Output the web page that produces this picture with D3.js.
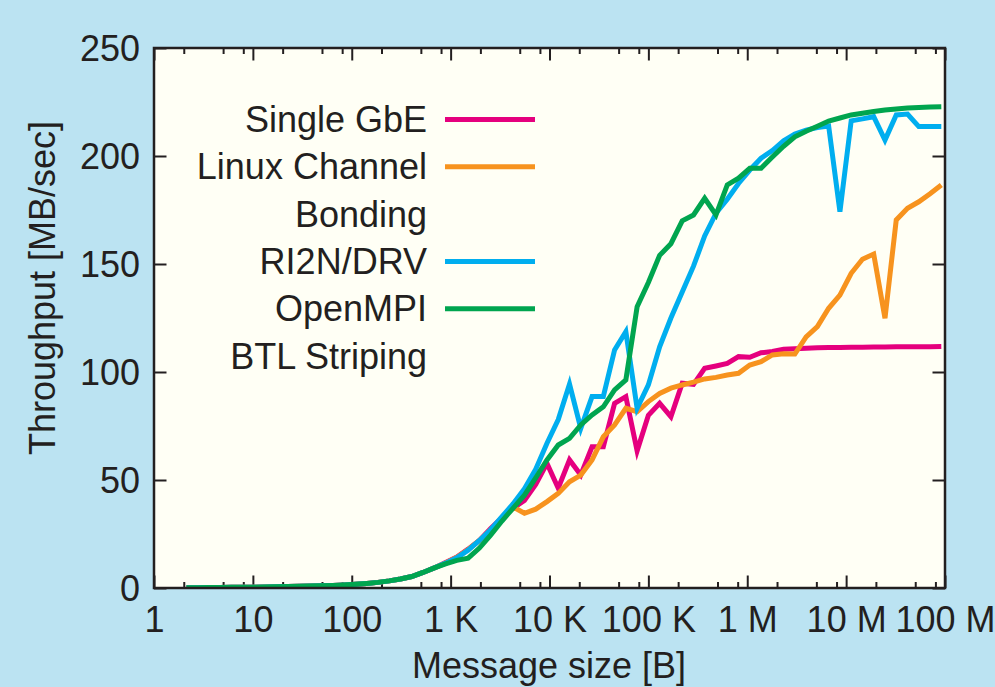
<!DOCTYPE html>
<html><head><meta charset="utf-8">
<script src="https://cdn.jsdelivr.net/npm/d3@7"></script>
<style>html,body{margin:0;padding:0;background:#bbe3f2;}svg{display:block}</style>
</head><body><svg id="c" width="995" height="687"></svg>
<script>
// Message sizes [B]
const sizes = [2.13,2.77,3.60,4.68,6.08,7.91,10.3,13.4,17.4,22.6,29.4,38.2,49.6,64.5,83.9,109,142,184,240,311,405,526,684,889,1156,1503,1954,2540,3303,4293,5581,7255,9431,12260,15940,20720,26940,35020,45530,59190,76940,100000,130000,169000,220000,286000,371000,483000,628000,816000,1061000,1379000,1793000,2331000,3030000,3939000,5121000,6657000,8654000,11250000,14630000,19010000,24720000,32130000,41770000,54310000,70600000,91780000];

const singleGbE = [0.1,0.1,0.2,0.2,0.3,0.3,0.4,0.5,0.6,0.7,0.8,0.9,1.0,1.2,1.4,1.7,2.1,2.6,3.3,4.2,5.3,7.2,9.3,11.8,14.3,18,22,27.5,32.5,37,40.5,48,57.7,46.2,59.3,52.3,65.4,65.4,85.5,88.6,63.5,80,85.5,79.3,94.8,94.3,101.7,102.8,104,107.1,106.8,108.9,109.5,110.5,110.8,111,111.2,111.3,111.4,111.5,111.5,111.6,111.6,111.7,111.7,111.7,111.7,111.8];

const linuxBonding = [0.1,0.1,0.2,0.2,0.3,0.3,0.4,0.5,0.6,0.7,0.8,0.9,1.0,1.2,1.4,1.7,2.1,2.6,3.3,4.2,5.3,7.2,9.3,11.6,14.2,17.8,22,27,32,37.5,34.6,36.5,40,43.8,49.2,52.3,59.3,70,75.5,83.2,81.6,86.3,90.1,92.5,94,95.3,96.8,97.5,98.6,99.4,103.2,104.8,107.9,108.4,108.3,116.3,121,129.5,135.6,145.7,152.2,154.6,124.9,170.4,175.8,178.8,182.5,186.6];

const ri2nDrv = [0.1,0.1,0.2,0.2,0.3,0.3,0.4,0.5,0.6,0.7,0.8,0.9,1.0,1.2,1.4,1.7,2.1,2.6,3.3,4.2,5.3,7.2,9.3,11.5,14,17.5,22,27,33,39,46,55,67,78,94.4,73.9,88.6,88.6,110.2,118.7,83.2,94,111.7,125,137,149,163,173.5,180,187.3,193.5,199,202.5,207,210.2,212,213.2,213.9,174.2,216.3,217.2,218.2,207.4,219,219.4,213.6,213.6,213.6];

const openMpiBtl = [0.1,0.1,0.2,0.2,0.3,0.3,0.4,0.5,0.6,0.7,0.8,0.9,1.0,1.2,1.4,1.7,2.1,2.6,3.3,4.2,5.3,7.2,9.3,11.2,12.8,13.8,18.5,24.5,31,37,43,51,59.3,66.2,69.3,75.5,80.1,83.9,91.7,96.3,130.2,141.4,154,159.4,170,172.7,180.4,172.7,186.6,189.7,194.3,194.3,199.5,204.5,208.9,211.5,213.8,216.2,217.6,219,219.8,220.6,221.3,221.8,222.2,222.5,222.7,222.8];

const seriesLabels = [["Single GbE"],["Linux Channel","Bonding"],["RI2N/DRV"],["OpenMPI","BTL Striping"]];
const seriesColors = ["#e5007e","#f7931e","#00aeef","#00a54f"];
const seriesValues = [singleGbE, linuxBonding, ri2nDrv, openMpiBtl];

const xTickValues = [1,10,100,1e3,1e4,1e5,1e6,1e7,1e8];
const xTickLabels = ["1","10","100","1 K","10 K","100 K","1 M","10 M","100 M"];
const xMinorFactors = [2,5,8];
const yTickValues = [0,50,100,150,200,250];
const xTitle = "Message size [B]";
const yTitle = "Throughput [MB/sec]";

const FONT = "'Liberation Sans', Arial, Helvetica, sans-serif";
const INK = "#231f20";
const L = 154, R = 945, T = 48, B = 588;

const svg = d3.select("#c");
svg.append("rect").attr("width",995).attr("height",687).attr("fill","#bbe3f2");
svg.append("rect").attr("x",L).attr("y",T).attr("width",R-L).attr("height",B-T).attr("fill","#fffff5");

const x = d3.scaleLog().domain([1,1e8]).range([L,R]);
const y = d3.scaleLinear().domain([0,250]).range([B,T]);

const minorVals = [];
for (const d of xTickValues.slice(0,-1)) for (const f of xMinorFactors) minorVals.push(d*f);

function styleAxis(g){
  g.select(".domain").remove();
  g.selectAll("line").attr("stroke",INK).attr("stroke-width",2);
  g.selectAll("text").attr("fill",INK).style("font-family",FONT).style("font-size","36px");
}

// bottom axis
const gb = svg.append("g").attr("transform",`translate(0,${B})`)
  .call(d3.axisBottom(x).tickValues(xTickValues).tickSize(-12.5).tickPadding(18)
    .tickFormat((d,i)=>xTickLabels[i]));
styleAxis(gb);
const gbm = svg.append("g").attr("transform",`translate(0,${B})`)
  .call(d3.axisBottom(x).tickValues(minorVals).tickSize(-6).tickFormat(""));
styleAxis(gbm);
// top axis
const gt = svg.append("g").attr("transform",`translate(0,${T})`)
  .call(d3.axisTop(x).tickValues(xTickValues).tickSize(-12.5).tickFormat(""));
styleAxis(gt);
const gtm = svg.append("g").attr("transform",`translate(0,${T})`)
  .call(d3.axisTop(x).tickValues(minorVals).tickSize(-6).tickFormat(""));
styleAxis(gtm);
// left axis
const gl = svg.append("g").attr("transform",`translate(${L},0)`)
  .call(d3.axisLeft(y).tickValues(yTickValues).tickSize(-12.5).tickPadding(14).tickFormat(d3.format("d")));
styleAxis(gl);
gl.selectAll("text").attr("dy","0.34em");
// right axis
const gr = svg.append("g").attr("transform",`translate(${R},0)`)
  .call(d3.axisRight(y).tickValues(yTickValues).tickSize(-12.5).tickFormat(""));
styleAxis(gr);

// lines
svg.append("clipPath").attr("id","pc").append("rect")
  .attr("x",L).attr("y",T).attr("width",R-L).attr("height",B-T);
const line = d3.line().x((d,i)=>x(sizes[i])).y(d=>y(d));
const gLines = svg.append("g").attr("clip-path","url(#pc)");
seriesValues.forEach((vals,i)=>{
  gLines.append("path").datum(vals).attr("d",line)
    .attr("fill","none").attr("stroke",seriesColors[i]).attr("stroke-width",5)
    .attr("stroke-linejoin","miter").attr("stroke-miterlimit",4);
});

// frame
svg.append("rect").attr("x",L).attr("y",T).attr("width",R-L).attr("height",B-T)
  .attr("fill","none").attr("stroke",INK).attr("stroke-width",2.5);

// legend
const lg = svg.append("g");
const rowStep = 47.3, base0 = 132, textRight = 427, lx1 = 445, lx2 = 535;
let row = 0;
seriesLabels.forEach((lines,i)=>{
  const b = base0 + row*rowStep;
  lg.append("line").attr("x1",lx1).attr("x2",lx2).attr("y1",b-12.5).attr("y2",b-12.5)
    .attr("stroke",seriesColors[i]).attr("stroke-width",5);
  lines.forEach((t,j)=>{
    lg.append("text").attr("x",textRight).attr("y",base0+(row+j)*rowStep)
      .attr("text-anchor","end").attr("fill",INK)
      .style("font-family",FONT).style("font-size","36px").text(t);
  });
  row += lines.length;
});

// titles
svg.append("text").attr("x",549).attr("y",678).attr("text-anchor","middle").attr("fill",INK)
  .style("font-family",FONT).style("font-size","36px").text(xTitle);
svg.append("text").attr("transform","translate(55,288) rotate(-90)").attr("text-anchor","middle").attr("fill",INK)
  .style("font-family",FONT).style("font-size","36px").text(yTitle);
</script>
</body></html>
